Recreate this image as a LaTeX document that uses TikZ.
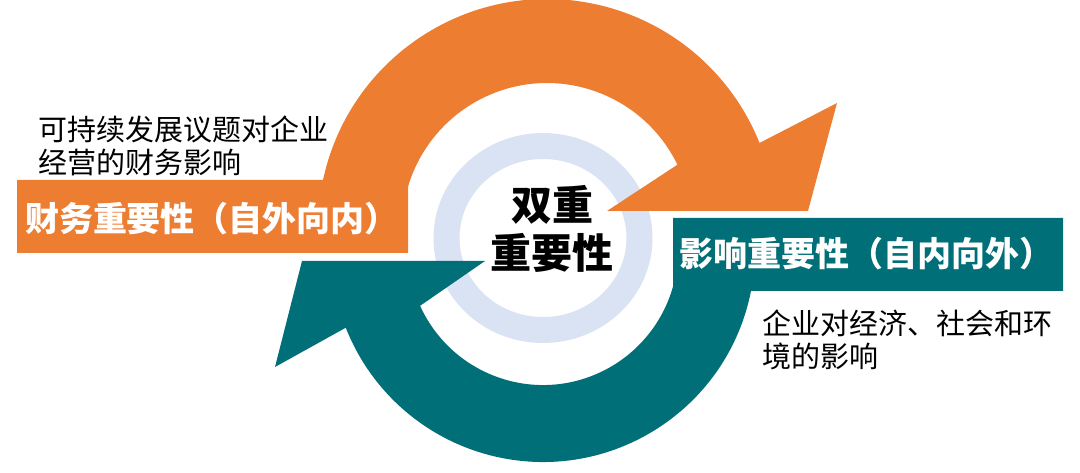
\documentclass[tikz,border=0pt]{standalone}
\usepackage{fontspec}
\setmainfont{Noto Sans CJK SC}

\definecolor{finorange}{HTML}{ED7D31}
\definecolor{impteal}{HTML}{006F78}
\definecolor{ringblue}{HTML}{DAE3F3}

\begin{document}
\begin{tikzpicture}[x=1pt, y=-1pt,
        boxtext/.style={text=white, inner sep=0pt, font=\bfseries\fontsize{34}{40}\selectfont},
        desctext/.style={anchor=west, align=left, inner sep=0pt, font=\fontsize{29}{33}\selectfont}]

    \useasboundingbox (0,0) rectangle (1080,473);

    % ring behind the middle words
    \draw[ringblue, line width=26pt] (543,238) ellipse (96.5 and 92);

    % financial materiality, outside in
    \fill[finorange] (17,253) -- (17,180) -- (323,180)
        arc[start angle=192.1, end angle=338.2, radius=229]
        -- (837,103) -- (808,211) -- (607,211) -- (677.4,164.7)
        arc[start angle=334.1, end angle=196.6, radius=145]
        -- (408,253) -- cycle;

    % impact materiality, inside out
    \fill[impteal] (673,286.4) -- (673,218) -- (1063,218) -- (1063,291) -- (751,291)
        arc[start angle=11.15, end angle=158.5, radius=212]
        -- (275,367) -- (302,261) -- (485,261) -- (420.1,305.8)
        arc[start angle=155.6, end angle=15.6, radius=135] -- cycle;

    \node[boxtext] (finlabel) at (212,219) {财务重要性（自外向内）};
    \node[boxtext] (implabel) at (866,254) {影响重要性（自内向外）};
    % \node[boxtext] ...

    \node[desctext] (findesc) at (38,146) {可持续发展议题对企业\\经营的财务影响};
    \node[desctext] (impdesc) at (762,340) {企业对经济、社会和环\\境的影响};

    \node[align=center, inner sep=0pt, font=\bfseries\fontsize{41}{48}\selectfont] (dual) at (552,229) {双重\\重要性};
\end{tikzpicture}
\end{document}
